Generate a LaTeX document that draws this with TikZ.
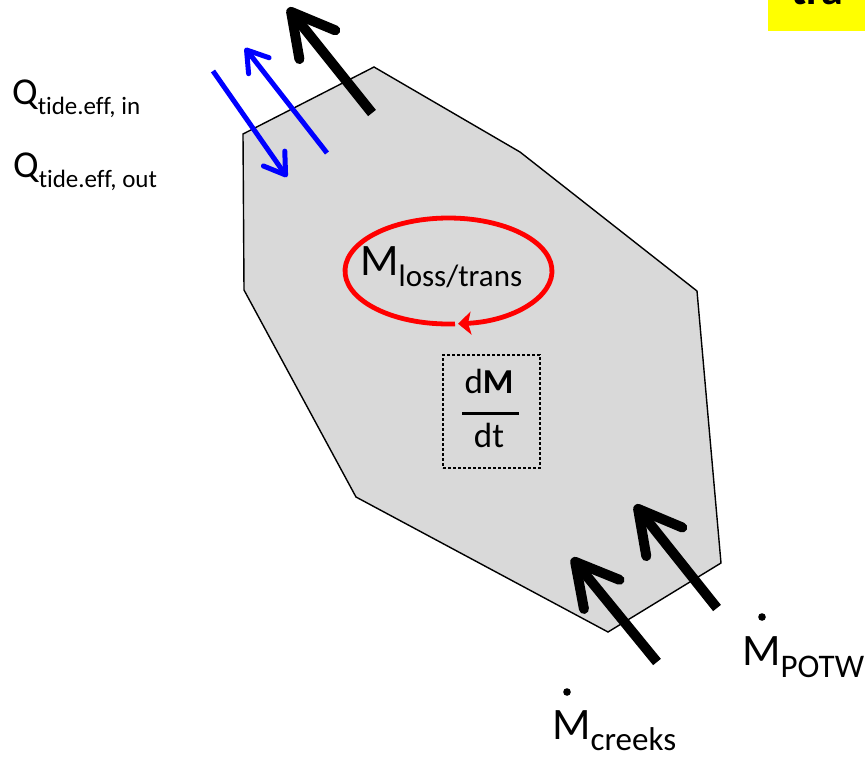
\documentclass[tikz,border=0pt]{standalone}
\usepackage{fontspec}
\setmainfont{Carlito}[Ligatures=NoCommon]
\usetikzlibrary{arrows.meta}
\definecolor{regiongray}{HTML}{D9D9D9}
\definecolor{tideblue}{HTML}{0000FF}
\definecolor{lossred}{HTML}{FF0000}
\definecolor{hilite}{HTML}{FFFF00}
\tikzset{
  region/.style={fill=regiongray, draw=black, line width=1.4pt, line join=miter},
  bigarrow/.style={line width=10pt, -{Straight Barb[round, length=42pt, width=46pt]}},
  tidearrow/.style={draw=tideblue, line width=5pt, -{Straight Barb[round, length=20pt, width=26pt]}},
  lossloop/.style={draw=lossred, line width=4.8pt, -{Stealth[length=13pt, width=23pt, inset=3pt]}},
  dashbox/.style={draw=black, line width=1.2pt, dash pattern=on 3pt off 2pt, inner sep=0pt},
  lbl/.style={inner sep=0pt, anchor=base west},
  qfs/.style={font=\fontsize{38}{40}\selectfont},
  mfs/.style={font=\fontsize{45}{47}\selectfont},
}
\newcommand{\subtxt}[3]{\raisebox{-#1pt}{\fontsize{#2}{#2}\selectfont #3}}
\begin{document}
\begin{tikzpicture}[x=1pt,y=1pt]
\useasboundingbox (0,0) rectangle (865,-756);

% highlighted (cropped) title box
\node[fill=hilite, anchor=north west, minimum width=97pt, minimum height=31pt, inner sep=0pt] (hl) at (768,0) {};
\begin{scope}
  \clip (0,0) rectangle (865,-756);
  \node[lbl, font=\bfseries\fontsize{44}{44}\selectfont] (tra) at (791,-4) {tra};
\end{scope}

% region
\draw[region] (243,-134) -- (374,-67) -- (520,-152) -- (697,-291) -- (721,-563)
  -- (608,-632) -- (356,-497) -- (244,-290) -- cycle;

% tide arrows
\coordinate (tinS) at (213,-71);
\coordinate (tinE) at (287,-177);
\coordinate (toutS) at (327,-153);
\coordinate (toutE) at (245,-48);
\draw[tidearrow] (tinS) -- (tinE);
\draw[tidearrow] (toutS) -- (toutE);

% black flow arrows
\coordinate (topS) at (372,-113);
\coordinate (topE) at (288,-8);
\coordinate (crS) at (657,-662);
\coordinate (crE) at (572,-558);
\coordinate (poS) at (717,-608);
\coordinate (poE) at (635,-505);
\draw[bigarrow] (topS) -- (topE);
\draw[bigarrow] (crS) -- (crE);
\draw[bigarrow] (poS) -- (poE);

% loss / transformation loop
\coordinate (lc) at (448.5,-271);
\draw[lossloop] (lc) ++(273.6:103.5 and 53) arc[start angle=273.6, end angle=-84.7, x radius=103.5, y radius=53];
\node[lbl] (mloss) at (360,-275) {\fontsize{45}{47}\selectfont M\subtxt{11}{31}{loss/trans}};

% dM/dt
\node[dashbox, minimum width=97pt, minimum height=113pt] (dbox) at (491.5,-411.5) {};
\node[inner sep=0pt, anchor=base, font=\fontsize{35}{37}\selectfont] (dmn) at (489,-393) {d\textbf{M}};
\node[inner sep=0pt, anchor=base, font=\fontsize{35}{37}\selectfont] (dtn) at (489,-447) {dt};
\draw[line width=3pt] (dbox.west |- 0,-413) ++(20,0) coordinate (barL) -- ++(57,0) coordinate (barR);

% tide labels
\node[lbl, qfs] (qin) at (12,-104) {Q\subtxt{10}{25}{tide.eff, in}};
\node[lbl, qfs] (qout) at (13,-177) {Q\subtxt{10}{25}{tide.eff, out}};

% source labels
\node[lbl, mfs] (mpotw) at (742,-665) {M\subtxt{12}{33}{POTW}};
\node[lbl, mfs] (mcreeks) at (552,-739) {M\subtxt{11}{33}{creeks}};
\fill (762,-617) circle (3.8pt);
\fill (567,-692) circle (3.8pt);
\end{tikzpicture}
\end{document}
